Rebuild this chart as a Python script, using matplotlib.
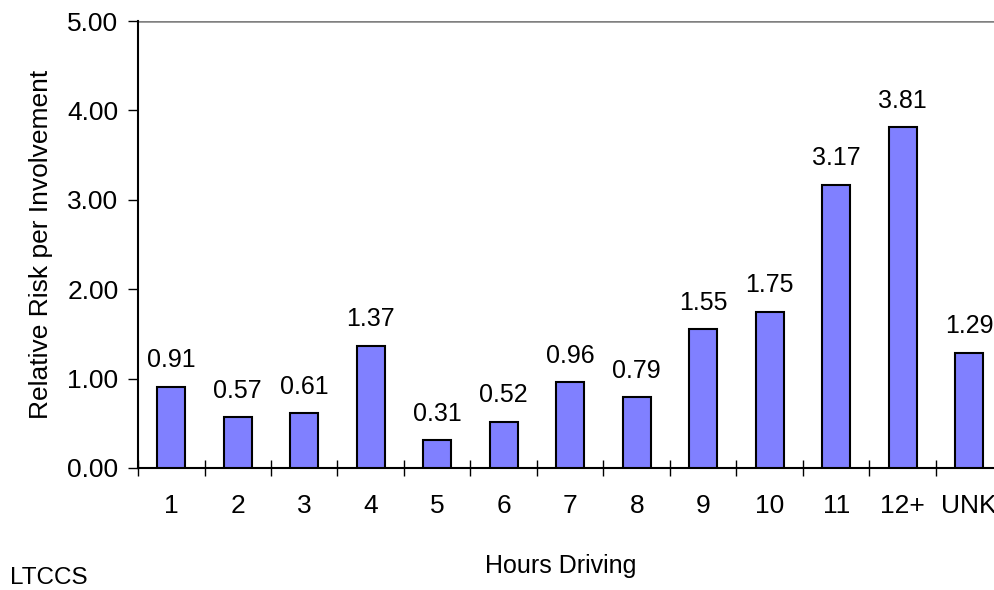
import matplotlib
matplotlib.use('Agg')
import matplotlib.pyplot as plt
import numpy as np

plt.rcParams['font.family'] = ['Liberation Sans', 'DejaVu Sans']

hours = ['1', '2', '3', '4', '5', '6', '7', '8', '9', '10', '11', '12+', 'UNK']
risk = [0.91, 0.57, 0.61, 1.37, 0.31, 0.52, 0.96, 0.79, 1.55, 1.75, 3.17, 3.81, 1.29]
yticks = [0, 1, 2, 3, 4, 5]

fig = plt.figure(figsize=(9.95, 5.9), dpi=100)
ax = fig.add_axes([0.1387, 0.2068, 0.8688, 0.7576])

x = np.arange(len(hours))
ax.bar(x, risk, width=0.42, color='#8080FF', edgecolor='black', linewidth=1.5, zorder=3)
for xi, v in zip(x, risk):
    ax.text(xi, v + 0.16, f'{v:.2f}', ha='center', va='bottom', fontsize=18)

ax.set_xlim(-0.5, len(hours) - 0.5)
ax.set_ylim(0, 5)
ax.axhline(5, color='#808080', linewidth=1.8, zorder=2)

ax.set_yticks(yticks)
ax.set_yticklabels([f'{t:.2f}' for t in yticks], fontsize=19)
ax.tick_params(axis='y', direction='out', length=7, width=1.0, pad=7)

# category labels centred, tick marks at the boundaries
ax.set_xticks(x)
ax.set_xticklabels(hours, fontsize=19)
ax.tick_params(axis='x', which='major', length=0, pad=19)
ax.set_xticks(np.arange(len(hours)) - 0.5, minor=True)
ax.tick_params(axis='x', which='minor', direction='inout', length=12, width=1.0)

for s in ['top', 'right']:
    ax.spines[s].set_visible(False)
ax.spines['left'].set_linewidth(1.5)
ax.spines['bottom'].set_linewidth(1.5)

ax.set_ylabel('Relative Risk per Involvement', fontsize=19, labelpad=10)
fig.text(0.564, 0.041, 'Hours Driving', fontsize=18, ha='center', va='center')
fig.text(0.010, 0.020, 'LTCCS', fontsize=17.5, ha='left', va='center')

fig.savefig('out.png', dpi=100)
